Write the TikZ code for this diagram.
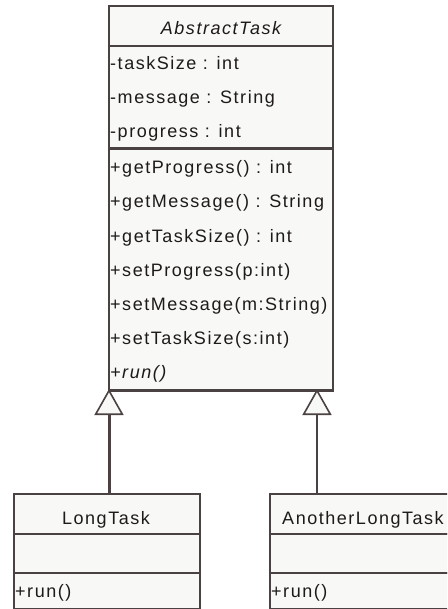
\documentclass[tikz,border=0pt]{standalone}
\usepackage{fontspec}
\setmainfont{Liberation Sans}[LetterSpace=8.5]
\usetikzlibrary{arrows.meta}
\definecolor{umlline}{HTML}{4A4242}
\definecolor{umlfill}{HTML}{F8F8F6}
\definecolor{umltext}{HTML}{1E1A1A}
\tikzset{
  compart/.style={draw=umlline, fill=umlfill, line width=1.7pt, inner sep=0pt, anchor=north west},
  member/.style={anchor=base west, inner sep=0pt, text=umltext, font=\fontsize{18}{20}\selectfont},
  title/.style={anchor=base, inner sep=0pt, text=umltext, font=\fontsize{18}{20}\selectfont},
  realize/.style={draw=umlline, line width=3pt, -{Triangle[open, length=26pt, width=29pt, fill=umlfill, line width=1.6pt]}},
}
\begin{document}
\begin{tikzpicture}[x=1pt, y=-1pt]
\useasboundingbox (0,0) rectangle (447,609);
\clip (0,0) rectangle (447,609);
\fill[white] (0,0) rectangle (447,609);

% AbstractTask class
\node[compart, minimum width=224pt, minimum height=40pt] (atT) at (108,5) {};
\node[compart, minimum width=224pt, minimum height=102pt] (atA) at (108,45) {};
\node[compart, minimum width=224pt, minimum height=242pt] (atM) at (108,147) {};
\draw[umlline, line width=2.6pt] (atA.south west) -- (atA.south east);
\draw[umlline, line width=2.8pt] (atM.south west) -- (atM.south east);
\node[title, font=\fontsize{18}{20}\selectfont\itshape] (atName) at (221,35) {AbstractTask};
\node[member] (a1) at (110,70) {-taskSize : int};
\node[member] (a2) at (110,104) {-message : String};
\node[member] (a3) at (110,138) {-progress : int};
\node[member] (m1) at (110,174) {+getProgress() : int};
\node[member] (m2) at (110,208) {+getMessage() : String};
\node[member] (m3) at (110,242) {+getTaskSize() : int};
\node[member] (m4) at (110,276) {+setProgress(p:int)};
\node[member] (m5) at (110,310) {+setMessage(m:String)};
\node[member] (m6) at (110,344) {+setTaskSize(s:int)};
\node[member, font=\fontsize{18}{20}\selectfont\itshape] (m7) at (110,378) {+run()};

% LongTask class
\node[compart, minimum width=186pt, minimum height=40pt] (ltT) at (13,493) {};
\node[compart, minimum width=186pt, minimum height=39pt] (ltA) at (13,533) {};
\node[compart, minimum width=186pt, minimum height=36pt] (ltM) at (13,572) {};
\node[title] (ltName) at (106,524) {LongTask};
\node[member] (ltRun) at (15,597) {+run()};

% AnotherLongTask class
\node[compart, minimum width=188pt, minimum height=40pt] (alT) at (269,493) {};
\node[compart, minimum width=188pt, minimum height=39pt] (alA) at (269,533) {};
\node[compart, minimum width=188pt, minimum height=36pt] (alM) at (269,572) {};
\node[title] (alName) at (363,524) {AnotherLongTask};
\node[member] (alRun) at (271,597) {+run()};

% generalisation arrows
\coordinate (ltTop) at (109,493);
\coordinate (atLeft) at (109,389);
\coordinate (alTop) at (317,493);
\coordinate (atRight) at (317,389);
\draw[realize] (ltTop) -- (atLeft);
\draw[realize, line width=2.4pt] (alTop) -- (atRight);
\end{tikzpicture}
\end{document}
